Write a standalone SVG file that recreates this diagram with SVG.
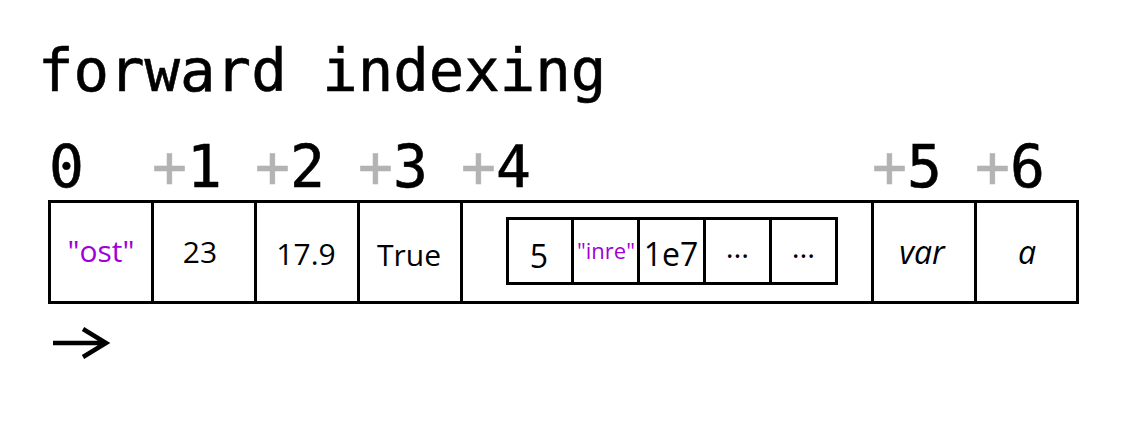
<svg xmlns="http://www.w3.org/2000/svg" width="1130" height="446" viewBox="0 0 1130 446">
<style>
.title{font-family:"DejaVu Sans Mono",monospace;font-size:59px;fill:#000;stroke:#000;stroke-width:0.6}
.idx{font-family:"DejaVu Sans Mono",monospace;font-size:58px;fill:#000;stroke:#000;stroke-width:0.6}
.plus{fill:#b3b3b3;stroke:#b3b3b3}
.cell{fill:#fff;stroke:#000;stroke-width:3}
.t{font-family:"Open Sans","Noto Sans",sans-serif;font-size:30px;fill:#000;text-anchor:middle}
.n{font-size:32px}
.s{fill:#a000d8}
.i{font-style:italic}
</style>
<rect width="1130" height="446" fill="#fff"/>
<text class="title" x="38" y="91">forward indexing</text>
<g id="indices">
<text class="idx" x="49" y="187">0</text>
<text class="idx" x="152" y="187"><tspan class="plus">+</tspan>1</text>
<text class="idx" x="255" y="187"><tspan class="plus">+</tspan>2</text>
<text class="idx" x="358" y="187"><tspan class="plus">+</tspan>3</text>
<text class="idx" x="461" y="187"><tspan class="plus">+</tspan>4</text>
<text class="idx" x="872" y="187"><tspan class="plus">+</tspan>5</text>
<text class="idx" x="975" y="187"><tspan class="plus">+</tspan>6</text>
</g>
<g id="cell0"><rect class="cell" x="49.5" y="201.5" width="103" height="101"/><text class="t s" x="101" y="262">"ost"</text></g>
<g id="cell1"><rect class="cell" x="152.5" y="201.5" width="103" height="101"/><text class="t" x="200" y="263">23</text></g>
<g id="cell2"><rect class="cell" x="255.5" y="201.5" width="103" height="101"/><text class="t" x="306" y="265">17.9</text></g>
<g id="cell3"><rect class="cell" x="358.5" y="201.5" width="103" height="101"/><text class="t" x="409" y="266">True</text></g>
<g id="cell4"><rect class="cell" x="461.5" y="201.5" width="411" height="101"/>
<g id="inner">
<rect class="cell" x="507.5" y="218.5" width="65" height="65"/><text class="t n" x="539" y="268">5</text>
<rect class="cell" x="572.5" y="218.5" width="66" height="65"/><text class="t s" x="606" y="259" style="font-size:22px">"inre"</text>
<rect class="cell" x="638.5" y="218.5" width="66" height="65"/><text class="t n" x="671" y="266">1e7</text>
<rect class="cell" x="704.5" y="218.5" width="66" height="65"/><text class="t" x="737.5" y="258">…</text>
<rect class="cell" x="770.5" y="218.5" width="66" height="65"/><text class="t" x="803.5" y="258">…</text>
</g></g>
<g id="cell5"><rect class="cell" x="872.5" y="201.5" width="103" height="101"/><text class="t i n" x="922" y="264">var</text></g>
<g id="cell6"><rect class="cell" x="975.5" y="201.5" width="102" height="101"/><text class="t i n" x="1027" y="264">a</text></g>
<g id="connectors">
<path d="M53 343 H105 M83 329 L106 343 L83 357" fill="none" stroke="#000" stroke-width="4.5"/>
</g>
</svg>
